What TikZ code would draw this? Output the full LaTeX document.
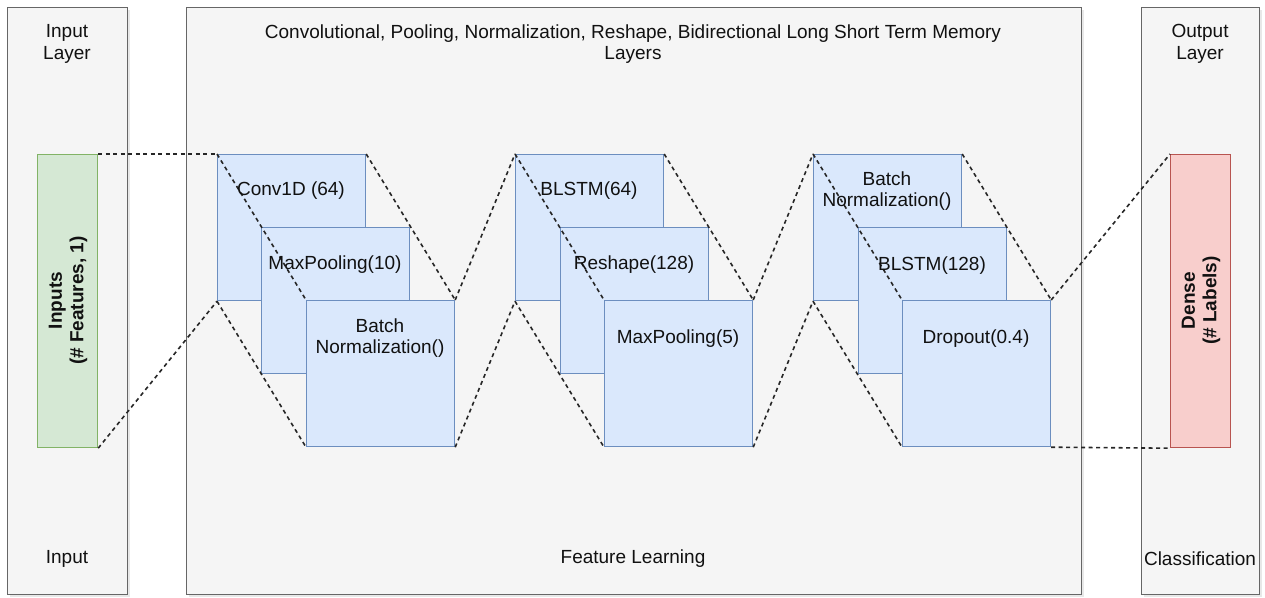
\documentclass[tikz,border=0pt]{standalone}
\usepackage{fontspec}
\setmainfont{Liberation Sans}
\usetikzlibrary{shadows}

\definecolor{panelfill}{HTML}{F5F5F5}
\definecolor{panelline}{HTML}{666666}
\definecolor{infill}{HTML}{D5E8D4}
\definecolor{inline}{HTML}{82B366}
\definecolor{layerfill}{HTML}{DAE8FC}
\definecolor{layerline}{HTML}{6C8EBF}
\definecolor{outfill}{HTML}{F8CECC}
\definecolor{outline}{HTML}{B85450}
\definecolor{txt}{HTML}{111111}

\tikzset{
  panel/.style={draw=panelline, fill=panelfill, line width=1.1pt, anchor=north west,
    inner sep=0pt, minimum height=587pt,
    drop shadow={opacity=0.18, shadow xshift=2.5pt, shadow yshift=-2.5pt}},
  layerbox/.style={draw=layerline, fill=layerfill, line width=1.2pt, anchor=north west,
    inner sep=0pt, minimum width=148pt, minimum height=146pt},
  slab/.style={line width=1.2pt, anchor=north west, inner sep=0pt,
    minimum width=60pt, minimum height=293pt},
  caption/.style={text=txt, font=\fontsize{19}{21.5}\selectfont, align=center, inner sep=0pt},
  boldcap/.style={caption, font=\bfseries\fontsize{19}{21.5}\selectfont, rotate=90},
  link/.style={black!85, line width=1.6pt, dash pattern=on 4pt off 3.5pt}
}

\begin{document}
\begin{tikzpicture}[x=1pt, y=-1pt]
\useasboundingbox (0,0) rectangle (1265,597);
\fill[white] (0,0) rectangle (1265,597);

% three stage panels
\node[panel, minimum width=120pt] (pin)   at (7,7) {};
\node[panel, minimum width=895pt] (pfeat) at (186,7) {};
\node[panel, minimum width=118pt] (pout)  at (1141,7) {};

\node[caption] (tin)   at (67,44)  {Input\\Layer};
\node[caption] (tfeat) at (633,44) {Convolutional, Pooling, Normalization, Reshape, Bidirectional Long Short Term Memory\\Layers};
\node[caption] (tout)  at (1200,44) {Output\\Layer};
\node[caption] (bin)   at (67,559)  {Input};
\node[caption] (bfeat) at (633,559) {Feature Learning};
\node[caption] (bout)  at (1200,559) {Classification};

% input and output slabs
\node[slab, draw=inline, fill=infill] (inp) at (37,154) {};
\node[boldcap] (inptxt) at (68,300.5) {Inputs\\(\# Features, 1)};
\node[slab, draw=outline, fill=outfill] (dense) at (1170,154) {};
\node[boldcap] (densetxt) at (1201,300.5) {Dense\\(\# Labels)};

% stacked layer boxes
\node[layerbox] (a1) at (217,154) {};
\node[layerbox] (a2) at (261,227) {};
\node[layerbox] (a3) at (306,300) {};
\node[layerbox] (b1) at (515,154) {};
\node[layerbox] (b2) at (560,227) {};
\node[layerbox] (b3) at (604,300) {};
\node[layerbox] (c1) at (813,154) {};
\node[layerbox] (c2) at (858,227) {};
\node[layerbox] (c3) at (902,300) {};

% dashed projection lines
\draw[link] (inp.north east) -- (a1.north west);
\draw[link] (inp.south east) -- (a1.south west);
\foreach \g in {a,b,c}{
  \draw[link] (\g1.north west) -- (\g3.north west);
  \draw[link] (\g1.south west) -- (\g3.south west);
  \draw[link] (\g1.north east) -- (\g3.north east);
}
\draw[link] (a3.north east) -- (b1.north west);
\draw[link] (a3.south east) -- (b1.south west);
\draw[link] (b3.north east) -- (c1.north west);
\draw[link] (b3.south east) -- (c1.south west);
\draw[link] (c3.north east) -- (dense.north west);
\draw[link] (c3.south east) -- (dense.south west);

% layer captions
\node[caption] (la1) at (291,191) {Conv1D (64)};
\node[caption] (la2) at (335,265) {MaxPooling(10)};
\node[caption] (la3) at (380,338) {Batch\\Normalization()};
\node[caption] (lb1) at (589,191) {BLSTM(64)};
\node[caption] (lb2) at (634,265) {Reshape(128)};
\node[caption] (lb3) at (678,339) {MaxPooling(5)};
\node[caption] (lc1) at (887,191) {Batch\\Normalization()};
\node[caption] (lc2) at (932,266) {BLSTM(128)};
\node[caption] (lc3) at (976,339) {Dropout(0.4)};
\end{tikzpicture}
\end{document}
